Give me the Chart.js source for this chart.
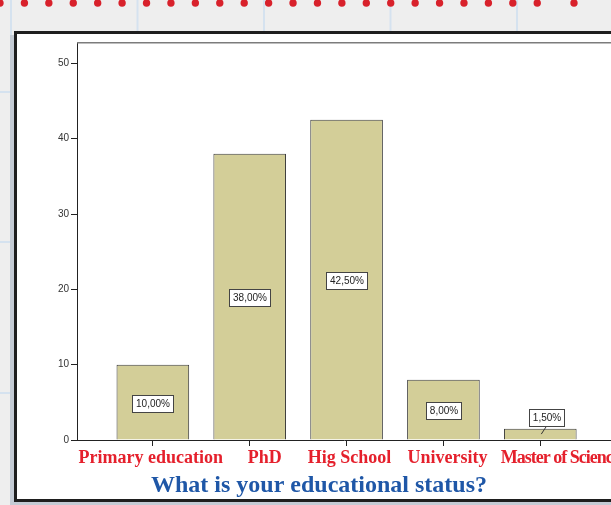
<!DOCTYPE html>
<html>
<head>
<meta charset="utf-8">
<script src="https://cdn.jsdelivr.net/npm/chart.js@4"></script>
<style>
  html, body { margin: 0; padding: 0; overflow: hidden; background: #eeeeee; }
  #wrap { position: relative; width: 611px; height: 505px; }
</style>
</head>
<body>
<div id="wrap"><canvas id="c" width="611" height="505"></canvas></div>
<script>
// ---- data ----
const categories = ['Primary education', 'PhD', 'Hig School', 'University', 'Master of Science'];
const percentages = [10, 38, 42.5, 8, 1.5];
const yTickValues = [0, 10, 20, 30, 40, 50];
const axisTitle = 'What is your educational status?';

// ---- decoration: page background, grid paper, red dots, frame ----
const backgroundPlugin = {
  id: 'bg',
  beforeDraw(chart) {
    const ctx = chart.ctx;
    ctx.save();
    ctx.fillStyle = '#eeeeee';
    ctx.fillRect(0, 0, 611, 505);
    ctx.strokeStyle = '#d5e2ef';
    ctx.lineWidth = 2;
    [11, 137.5, 264, 390.5, 517].forEach(x => { ctx.beginPath(); ctx.moveTo(x, 0); ctx.lineTo(x, 505); ctx.stroke(); });
    [92, 242, 393].forEach(y => { ctx.beginPath(); ctx.moveTo(0, y); ctx.lineTo(611, y); ctx.stroke(); });
    ctx.fillStyle = '#d8212b';
    const dotsX = [];
    for (let k = 0; k <= 22; k++) dotsX.push(k * 24.42);
    dotsX.push(574);
    dotsX.forEach(x => { ctx.beginPath(); ctx.arc(x, 3, 3.7, 0, Math.PI * 2); ctx.fill(); });
    // shadow
    ctx.fillStyle = '#c4cbd4';
    ctx.fillRect(10, 35, 620, 470);
    // frame
    ctx.fillStyle = '#1e1e1e';
    ctx.fillRect(14, 31, 620, 471);
    ctx.fillStyle = '#ffffff';
    ctx.fillRect(17, 34, 620, 465);
    ctx.restore();
  },
  afterDraw(chart) {
    const ctx = chart.ctx;
    const a = chart.chartArea;
    ctx.save();
    ctx.strokeStyle = '#7c7c7c';
    ctx.lineWidth = 1.5;
    ctx.beginPath();
    ctx.moveTo(a.left, a.top - 0.25);
    ctx.lineTo(a.right, a.top - 0.25);
    ctx.stroke();
    ctx.restore();
  }
};

// ---- value labels inside / above the bars ----
const valueLabelPlugin = {
  id: 'valueLabels',
  afterDatasetsDraw(chart) {
    const ctx = chart.ctx;
    const meta = chart.getDatasetMeta(0);
    ctx.save();
    ctx.font = '10px "Liberation Sans", Arial, sans-serif';
    ctx.textAlign = 'center';
    ctx.textBaseline = 'middle';
    meta.data.forEach((bar, i) => {
      const txt = percentages[i].toFixed(2).replace('.', ',') + '%';
      const w = Math.round(ctx.measureText(txt).width + 7);
      const h = 17;
      const mid = (bar.y + bar.base) / 2;
      let cx = bar.x, cy = mid + 1;
      const small = (bar.base - bar.y) < h + 6;
      if (small) { cx = bar.x + 6; cy = bar.y - 11; }
      const left = Math.round(cx - w / 2) + 0.5;
      const top = Math.round(cy - h / 2) + 0.5;
      if (small) {
        ctx.strokeStyle = '#333';
        ctx.lineWidth = 1;
        ctx.beginPath();
        ctx.moveTo(cx, top + h);
        ctx.lineTo(bar.x + 1, mid);
        ctx.stroke();
      }
      ctx.fillStyle = '#ffffff';
      ctx.fillRect(left, top, w, h);
      ctx.strokeStyle = '#444';
      ctx.lineWidth = 1;
      ctx.strokeRect(left, top, w, h);
      ctx.fillStyle = '#222';
      ctx.fillText(txt, left + w / 2, top + h / 2 + 0.5);
    });
    ctx.restore();
  }
};

// ---- red category labels and blue axis title ----
const categoryLabelPlugin = {
  id: 'catLabels',
  afterDraw(chart, args, opts) {
    const ctx = chart.ctx;
    const xs = chart.scales.x;
    const a = chart.chartArea;
    ctx.save();
    ctx.font = 'bold 18px "Liberation Serif", "Times New Roman", serif';
    ctx.fillStyle = '#e5202c';
    ctx.textAlign = 'center';
    ctx.textBaseline = 'alphabetic';
    categories.forEach((c, i) => {
      ctx.letterSpacing = opts.tight[i] ? '-1px' : '0px';
      ctx.fillText(c, xs.getPixelForValue(i) + opts.shift[i], a.bottom + 22.5);
    });
    ctx.letterSpacing = '0px';
    ctx.font = 'bold 24px "Liberation Serif", "Times New Roman", serif';
    ctx.fillStyle = '#1f57a7';
    ctx.fillText(axisTitle, opts.titleX, a.bottom + 51.5);
    ctx.restore();
  }
};

const chart = new Chart(document.getElementById('c'), {
  type: 'bar',
  data: {
    datasets: [{
      data: categories.map((c, i) => ({ x: i, y: percentages[i] })),
      backgroundColor: '#d3ce98',
      borderColor: '#3c3c3c',
      borderWidth: 1,
      barPercentage: 0.75,
      categoryPercentage: 1
    }]
  },
  options: {
    responsive: false,
    animation: false,
    devicePixelRatio: 1,
    layout: { padding: { top: 43, left: 0, right: 0, bottom: 0 } },
    plugins: {
      legend: { display: false },
      tooltip: { enabled: false },
      catLabels: { shift: [-2, 15, 3, 4, 20], tight: [false, false, false, false, true], titleX: 319 }
    },
    scales: {
      x: {
        type: 'linear',
        offset: false,
        min: -0.783,
        max: 4.73,
        afterBuildTicks: s => { s.ticks = categories.map((c, i) => ({ value: i })); },
        afterFit: s => { s.height = 65; },
        grid: { offset: false, drawOnChartArea: false, drawTicks: true, tickLength: 6, color: '#222', tickWidth: 1 },
        border: { display: true, color: '#222', width: 1 },
        ticks: { display: false }
      },
      y: {
        min: 0,
        max: 52.7,
        afterBuildTicks: s => { s.ticks = yTickValues.map(v => ({ value: v })); },
        afterFit: s => { s.width = 77; },
        grid: { drawOnChartArea: false, drawTicks: true, tickLength: 6, color: '#222' },
        border: { display: true, color: '#222', width: 1 },
        ticks: { padding: 2, color: '#333', font: { family: '"Liberation Sans", Arial, sans-serif', size: 10 } }
      }
    }
  },
  plugins: [backgroundPlugin, valueLabelPlugin, categoryLabelPlugin]
});
</script>
</body>
</html>
